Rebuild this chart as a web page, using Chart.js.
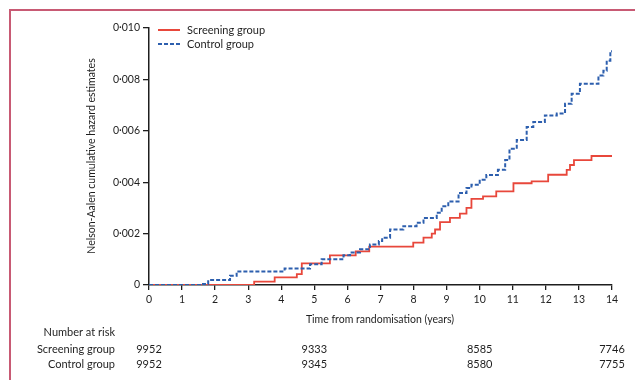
<!DOCTYPE html>
<html>
<head>
<meta charset="utf-8">
<script src="https://cdn.jsdelivr.net/npm/chart.js@4.4.0/dist/chart.umd.min.js"></script>
<style>
  body { margin: 0; background: #fff; }
  #wrap { position: relative; width: 635px; height: 380px; overflow: hidden; }
  #frame { position: absolute; left: 9px; top: 9px; width: 700px; height: 400px;
           border-left: 2px solid #c85a74; border-top: 2px solid #c85a74; }
  canvas { position: absolute; left: 0; top: 0; }
</style>
</head>
<body>
<div id="wrap">
  <div id="frame"></div>
  <canvas id="hazChart" width="635" height="380"></canvas>
</div>
<script>
// ── Data (cumulative hazard, step points: value holds from time onward) ──
const screeningTimes = [0, 3.18, 3.8, 4.47, 4.62, 5.47, 6.25, 6.66, 7.99, 8.3, 8.55, 8.65, 8.8, 9.1, 9.4, 9.6, 9.75, 10.1, 10.5, 11.02, 11.57, 12.07, 12.63, 12.73, 12.85, 13.38, 14.0];
const screeningHazard = [0, 0.00013, 0.0003, 0.00042, 0.00084, 0.00115, 0.00131, 0.00149, 0.00165, 0.00184, 0.0020, 0.00216, 0.00245, 0.00261, 0.00278, 0.0030, 0.00335, 0.00345, 0.00364, 0.00396, 0.00403, 0.00429, 0.00448, 0.00467, 0.00486, 0.00502, 0.00502];

const controlTimes = [0, 1.59, 1.79, 2.45, 2.65, 4.1, 4.87, 5.22, 5.88, 6.08, 6.38, 6.68, 6.95, 7.05, 7.29, 7.69, 8.09, 8.3, 8.7, 8.85, 9.05, 9.36, 9.6, 9.75, 10.0, 10.2, 10.55, 10.77, 10.9, 11.12, 11.42, 11.62, 11.97, 12.33, 12.58, 12.78, 13.03, 13.44, 13.59, 13.74, 13.84, 13.95, 14.0];
const controlHazard = [0, 0.00004, 0.00019, 0.00036, 0.00053, 0.00064, 0.00081, 0.0010, 0.00116, 0.00126, 0.00139, 0.00158, 0.00171, 0.00184, 0.00216, 0.00229, 0.00242, 0.00261, 0.00281, 0.00306, 0.00325, 0.00358, 0.00377, 0.0039, 0.0041, 0.00428, 0.00448, 0.00486, 0.0053, 0.00564, 0.00615, 0.00634, 0.0066, 0.00667, 0.00705, 0.00744, 0.00783, 0.00783, 0.00815, 0.00834, 0.00873, 0.0091, 0.0091];

const xTicks = [0, 1, 2, 3, 4, 5, 6, 7, 8, 9, 10, 11, 12, 13, 14];
const yTicks = [0, 0.002, 0.004, 0.006, 0.008, 0.010];

const riskTimes = [0, 5, 10, 14];
const screeningRisk = ['9952', '9333', '8585', '7746'];
const controlRisk = ['9952', '9345', '8580', '7755'];

const RED = '#e8473b';
const BLUE = '#2d5fae';
const INK = '#1e1e1e';
const FONT = 'Lato, "Open Sans", sans-serif';

function toPoints(ts, vs) {
    return ts.map((t, i) => ({ x: t, y: vs[i] }));
}

function fmtTick(v) {
    if (v === 0) return '0';
    return v.toFixed(3).replace('.', '·');
}

// ── Extra text: legend, axis titles, number-at-risk table ──
const annotations = {
    id: 'annotations',
    afterDraw(chart) {
        const ctx = chart.ctx;
        const xs = chart.scales.x;
        ctx.save();
        ctx.fillStyle = INK;
        ctx.textBaseline = 'middle';

        // legend
        const items = [
            { label: 'Screening group', color: RED, dash: [], y: 30 },
            { label: 'Control group', color: BLUE, dash: [4, 2], y: 44 }
        ];
        items.forEach(it => {
            ctx.beginPath();
            ctx.strokeStyle = it.color;
            ctx.lineWidth = 2;
            ctx.setLineDash(it.dash);
            ctx.moveTo(158, it.y);
            ctx.lineTo(180, it.y);
            ctx.stroke();
            ctx.setLineDash([]);
            ctx.font = '11px ' + FONT;
            ctx.textAlign = 'left';
            ctx.fillText(it.label, 187, it.y);
        });

        // y title
        ctx.save();
        ctx.translate(92, 156);
        ctx.rotate(-Math.PI / 2);
        ctx.textAlign = 'center';
        ctx.font = '10.5px ' + FONT;
        ctx.fillText('Nelson-Aalen cumulative hazard estimates', 0, 0);
        ctx.restore();

        // x title
        ctx.textAlign = 'center';
        ctx.font = '10.5px ' + FONT;
        ctx.fillText('Time from randomisation (years)', 380, 320);

        // number at risk
        ctx.font = '11px ' + FONT;
        ctx.textAlign = 'right';
        ctx.fillText('Number at risk', 115, 332);
        ctx.fillText('Screening group', 115, 349);
        ctx.fillText('Control group', 115, 364);
        ctx.textAlign = 'center';
        riskTimes.forEach((t, i) => {
            const px = xs.getPixelForValue(t);
            ctx.fillText(screeningRisk[i], px, 349);
            ctx.fillText(controlRisk[i], px, 364);
        });
        ctx.restore();
    }
};

new Chart(document.getElementById('hazChart'), {
    type: 'line',
    data: {
        datasets: [
            {
                label: 'Screening group',
                data: toPoints(screeningTimes, screeningHazard),
                borderColor: RED, borderWidth: 1.8,
                stepped: 'before', pointRadius: 0, fill: false, order: 1
            },
            {
                label: 'Control group',
                data: toPoints(controlTimes, controlHazard),
                borderColor: BLUE, borderWidth: 2, borderDash: [4, 2],
                stepped: 'before', pointRadius: 0, fill: false, order: 0
            }
        ]
    },
    options: {
        responsive: false,
        animation: false,
        layout: { padding: { top: 28, right: 23, left: 0, bottom: 0 } },
        plugins: { legend: { display: false }, tooltip: { enabled: false } },
        scales: {
            x: {
                type: 'linear', min: 0, max: 14,
                afterFit(s) { s.height = 95; },
                afterBuildTicks(s) { s.ticks = xTicks.map(v => ({ value: v })); },
                grid: { drawOnChartArea: false, drawTicks: true, tickLength: 5, color: INK, lineWidth: 1.3 },
                border: { display: true, color: INK, width: 1.5 },
                ticks: { color: INK, font: { family: FONT, size: 10.5 }, padding: 3, maxRotation: 0 }
            },
            y: {
                type: 'linear', min: 0, max: 0.010,
                afterFit(s) { s.width = 149; },
                afterBuildTicks(s) { s.ticks = yTicks.map(v => ({ value: v })); },
                grid: { drawOnChartArea: false, drawTicks: true, tickLength: 6, color: INK, lineWidth: 1.3 },
                border: { display: true, color: INK, width: 1.5 },
                ticks: { color: INK, font: { family: FONT, size: 10.5 }, padding: 3, callback: v => fmtTick(v) }
            }
        }
    },
    plugins: [annotations]
});
</script>
</body>
</html>
